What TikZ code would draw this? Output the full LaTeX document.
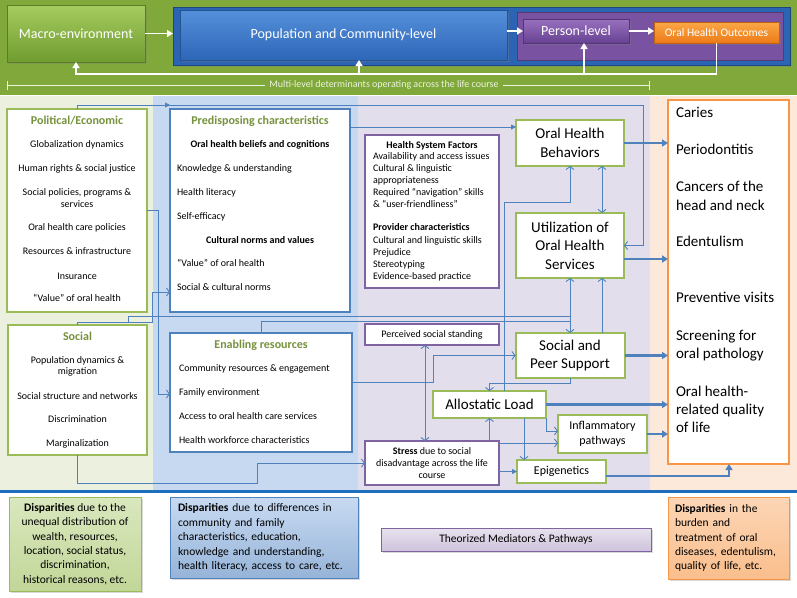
\documentclass[tikz,border=0pt]{standalone}
\usepackage{fontspec}
\setmainfont{Carlito}
\usepackage{xcolor}
\usetikzlibrary{arrows.meta, positioning, calc, shadows}

\definecolor{BannerGreen}{RGB}{128,168,58}
\definecolor{MacroTop}{RGB}{165,204,95}
\definecolor{MacroBot}{RGB}{112,156,48}
\definecolor{PopFrame}{RGB}{44,100,180}
\definecolor{PopTop}{RGB}{84,144,218}
\definecolor{PopBot}{RGB}{46,102,184}
\definecolor{PurpFrame}{RGB}{122,82,162}
\definecolor{PerTop}{RGB}{152,112,192}
\definecolor{PerBot}{RGB}{104,66,146}
\definecolor{OhoTop}{RGB}{251,168,72}
\definecolor{OhoBot}{RGB}{236,122,22}
\definecolor{MlText}{RGB}{236,244,222}
\definecolor{ColGreen}{RGB}{235,241,222}
\definecolor{ColBlue}{RGB}{198,217,240}
\definecolor{ColPurple}{RGB}{227,222,236}
\definecolor{ColOrange}{RGB}{253,233,217}
\definecolor{BoxGreen}{RGB}{155,187,89}
\definecolor{BoxBlue}{RGB}{79,129,189}
\definecolor{BoxPurple}{RGB}{128,100,162}
\definecolor{BoxOrange}{RGB}{247,150,70}
\definecolor{TitleGreen}{RGB}{118,146,60}
\definecolor{LinkBlue}{RGB}{79,129,189}
\definecolor{SepBlue}{RGB}{30,110,190}
\definecolor{LegGreenTop}{RGB}{218,232,190}
\definecolor{LegGreenBot}{RGB}{194,214,152}
\definecolor{LegBlueTop}{RGB}{200,218,242}
\definecolor{LegBlueBot}{RGB}{150,180,216}
\definecolor{LegPurpTop}{RGB}{232,226,238}
\definecolor{LegPurpBot}{RGB}{206,195,220}
\definecolor{LegOrTop}{RGB}{252,214,182}
\definecolor{LegOrBot}{RGB}{250,190,140}

\newcommand{\ftxt}{\fontsize{10}{12}\selectfont}
\newcommand{\fhsf}{\fontsize{10}{12}\selectfont}
\newcommand{\fhead}{\fontsize{12}{14}\selectfont}
\newcommand{\fbig}{\fontsize{15}{18.5}\selectfont}
\newcommand{\fmid}{\fontsize{12}{15}\selectfont}
\newcommand{\fleg}{\fontsize{11.5}{14.4}\selectfont}
\newcommand{\fban}{\fontsize{14}{16}\selectfont}
\newcommand{\fsban}{\fontsize{11.5}{14}\selectfont}

\begin{document}
\begin{tikzpicture}[x=1pt, y=-1pt,
  every node/.style={inner sep=0pt, outer sep=0pt},
  lvl/.style={draw=#1, line width=0.6pt, text=white,
    drop shadow={opacity=0.35, shadow xshift=1.5pt, shadow yshift=-1.5pt}},
  item/.style={font=\ftxt, text height=7pt, text depth=2pt},
  lft/.style={item, anchor=west},
  ttl/.style={font=\fhead\bfseries, text=TitleGreen, text height=8.5pt, text depth=2.5pt},
  outitem/.style={font=\fbig, anchor=west, text height=10.5pt, text depth=3pt},
  gbox/.style={draw=BoxGreen, line width=2pt, fill=white},
  bbox/.style={draw=BoxBlue, line width=2pt, fill=white},
  pbox/.style={draw=BoxPurple, line width=1.6pt, fill=white},
  obox/.style={draw=BoxOrange, line width=2pt, fill=white},
  legbox/.style={draw=#1, line width=0.7pt, font=\fleg,
    drop shadow={opacity=0.3, shadow xshift=1.5pt, shadow yshift=-1.5pt}},
  wline/.style={draw=white, line width=1.8pt},
  warr/.style={wline, -{Triangle[length=6pt,width=7pt]}},
  mlline/.style={draw=MlText, line width=0.6pt},
  link/.style={draw=LinkBlue, line width=0.9pt},
  arr/.style={link, -{Straight Barb[length=3pt,width=8pt]}},
  arrb/.style={link, {Straight Barb[length=3pt,width=8pt]}-{Straight Barb[length=3pt,width=8pt]}},
  arrf/.style={link, -{Triangle[length=5pt,width=5pt]}},
  thk/.style={draw=LinkBlue, line width=2.2pt, -{Triangle[length=6pt,width=7pt]}}]
  \useasboundingbox (0,0) rectangle (797,597);

  % backgrounds
  \fill[BannerGreen] (0,0) rectangle (797,95);
  \fill[ColGreen] (0,96) rectangle (153,490);
  \fill[ColBlue] (153,96) rectangle (358,490);
  \fill[ColPurple] (358,96) rectangle (650,490);
  \fill[ColOrange] (650,96) rectangle (797,490);
  \draw[SepBlue, line width=3pt] (0,491.5) -- (797,491.5);

  % multi-level banner
  \node[lvl=MacroBot!80!black, top color=MacroTop, bottom color=MacroBot,
    minimum width=138pt, minimum height=57pt, font=\fban] (macro) at (76,33.5) {Macro-environment};
  \node[fill=PopFrame, draw=PopFrame!70!black, line width=0.6pt, minimum width=617pt, minimum height=58pt,
    drop shadow={opacity=0.35, shadow xshift=1.5pt, shadow yshift=-1.5pt}] (popwrap) at (481.5,36) {};
  \node[lvl=PopBot!80!black, top color=PopTop, bottom color=PopBot,
    minimum width=327pt, minimum height=50pt, font=\fban] (pop) at (343.5,35) {Population and Community-level};
  \node[fill=PurpFrame, draw=PurpFrame!70!black, line width=0.6pt, minimum width=266pt, minimum height=48pt] (perwrap) at (650,36) {};
  \node[lvl=PerBot!80!black, top color=PerTop, bottom color=PerBot,
    minimum width=106pt, minimum height=24pt, font=\fban] (person) at (576,31) {Person-level};
  \node[lvl=OhoBot!80!black, top color=OhoTop, bottom color=OhoBot,
    minimum width=125pt, minimum height=21pt, font=\fsban] (oho) at (716.5,32.5) {Oral Health Outcomes};

  \draw[warr] (macro.east) -- (macro.east -| popwrap.west);
  \draw[warr] (pop.east |- person.west) -- (person.west);
  \draw[warr] (person.east) -- (person.east -| oho.west);
  \coordinate (fb) at (0,74);
  \coordinate (popup) at ($(pop.south)+(15.5,0)$);
  \coordinate (perup) at ($(person.south)+(8,0)$);
  \draw[warr] (oho.south) |- (macro.south |- fb) -- (macro.south);
  \draw[warr] (popup |- fb) -- (popup);
  \draw[warr] (perup |- fb) -- (perup);

  \node[font=\ftxt, text=MlText, inner xsep=4pt] (mltext) at (384,85) {Multi-level determinants operating across the life course};
  \coordinate (mlL) at (7,85);
  \coordinate (mlR) at (650,85);
  \draw[mlline, {Bar[width=9pt]}-] (mlL) -- (mltext.west);
  \draw[mlline, -{Bar[width=9pt]}] (mltext.east) -- (mlR);

  % macro-environment column
  \node[gbox, minimum width=140pt, minimum height=203pt] (pol) at (77,210.5) {};
  \node[ttl] (pol-t) at (77,121) {Political/Economic};
  \foreach \y/\t [count=\i] in {145/Globalization dynamics, 169/Human rights \& social justice,
      193/{Social policies, programs \&}, 205/services, 228/Oral health care policies,
      252/Resources \& infrastructure, 277/Insurance, 299/``Value'' of oral health}
    \node[item] (pol-\i) at (77,\y) {\t};

  \node[gbox, minimum width=139pt, minimum height=130pt] (soc) at (77.5,390) {};
  \node[ttl] (soc-t) at (77.5,337) {Social};
  \foreach \y/\t [count=\i] in {361/Population dynamics \&, 372/migration,
      397/Social structure and networks, 420/Discrimination, 444/Marginalization}
    \node[item] (soc-\i) at (77.5,\y) {\t};

  % population and community column
  \node[bbox, minimum width=180pt, minimum height=203pt] (pred) at (260,210.5) {};
  \node[ttl] (pred-t) at (260,121) {Predisposing characteristics};
  \node[item, font=\ftxt\bfseries] (pred-h1) at (260,145) {Oral health beliefs and cognitions};
  \node[item, font=\ftxt\bfseries] (pred-h2) at (260,241) {Cultural norms and values};
  \foreach \y/\t [count=\i] in {169/Knowledge \& understanding, 193/Health literacy,
      217/Self-efficacy, 264/``Value'' of oral health, 288/Social \& cultural norms}
    \node[lft] (pred-\i) at (177,\y) {\t};

  \node[bbox, minimum width=182pt, minimum height=119pt] (enab) at (261,392.5) {};
  \node[ttl] (enab-t) at (261,345) {Enabling resources};
  \foreach \y/\t [count=\i] in {369/Community resources \& engagement, 393/Family environment,
      417/Access to oral health care services, 441/Health workforce characteristics}
    \node[lft] (enab-\i) at (179,\y) {\t};

  % mediators and pathways
  \node[pbox, minimum width=134pt, minimum height=153pt] (hsf) at (432,211.5) {};
  \node[item, font=\fhsf\bfseries] (hsf-t) at (432,146) {Health System Factors};
  \foreach \y/\t [count=\i] in {157/Availability and access issues, 169/Cultural \& linguistic,
      181/appropriateness, 193/Required ``navigation'' skills, 205/\& ``user-friendliness'',
      228/\textbf{Provider characteristics}, 241/Cultural and linguistic skills,
      253/Prejudice, 265/Stereotyping, 277/Evidence-based practice}
    \node[lft, font=\fhsf] (hsf-\i) at (373,\y) {\t};

  \node[pbox, minimum width=134pt, minimum height=21pt, font=\ftxt] (pss) at (432,334.5) {Perceived social standing};
  \node[pbox, minimum width=134pt, minimum height=44pt, font=\ftxt, align=center] (stress) at (432,463)
    {\textbf{Stress} due to social\\disadvantage across the life\\course};

  \node[gbox, minimum width=108pt, minimum height=46pt, font=\fbig, align=center] (ohb) at (570,143) {Oral Health\\Behaviors};
  \node[gbox, minimum width=108pt, minimum height=65pt, font=\fbig, align=center] (util) at (570,245.5) {Utilization of\\Oral Health\\Services};
  \node[gbox, minimum width=109pt, minimum height=45pt, font=\fbig, align=center] (sps) at (570,355.5) {Social and\\Peer Support};
  \node[gbox, minimum width=113pt, minimum height=27pt, font=\fbig] (al) at (489.5,404.5) {Allostatic Load};
  \node[gbox, minimum width=89pt, minimum height=38pt, font=\fmid, align=center] (infl) at (602.5,434) {Inflammatory\\pathways};
  \node[gbox, minimum width=89pt, minimum height=23pt, font=\fmid] (epi) at (561.5,471.5) {Epigenetics};

  % oral health outcomes
  \node[obox, minimum width=121pt, minimum height=364pt] (out) at (728.5,282) {};
  \foreach \y/\t [count=\i] in {114/Caries, 151/Periodontitis, 188/Cancers of the, 207/head and neck,
      243/Edentulism, 299/Preventive visits, 337/Screening for, 355/oral pathology,
      393/Oral health-, 411/related quality, 429/of life}
    \node[outitem] (out-\i) at (676,\y) {\t};

  % connectors
  \coordinate (busR) at (643,105);
  \draw[arrf] (pol.north) |- ($(pred.north west)+(0,-4)$);
  \draw[arr] (pol.north) |- (busR) |- (util.east);
  \coordinate (famIn) at (158,394);
  \draw[arr] (pol.east) -| (famIn) -- (famIn -| enab.west);
  \coordinate (socBus) at (152,322);
  \coordinate (predIn) at (0,292);
  \draw[arr] (soc.north) |- (socBus) |- (pred.west |- predIn);
  \coordinate (socUp) at (128,322);
  \coordinate (busA) at (0,316);
  \coordinate (busB) at (0,321);
  \draw[link] (socUp) |- (util.south |- busA);
  \draw[link] (enab.north) |- (util.south |- busB);
  \draw[arrb] (util.south) -- (sps.north);
  \coordinate (socDown) at (257,483);
  \draw[arr] (soc.south) |- (socDown) |- (stress.west);

  \coordinate (ohbIn) at (0,127);
  \draw[arrf] (pred.east |- ohbIn) -- (ohb.west |- ohbIn);
  \coordinate (colB) at (602,0);
  \draw[arrb] (ohb.south -| colB) -- (util.north -| colB);
  \draw[arr] (sps.north -| colB) -- (util.south -| colB);
  \coordinate (alUp) at (504,202);
  \draw[arr] (al.north -| alUp) -- (alUp) -| (ohb.south);
  \coordinate (pssCol) at (425,0);
  \draw[arrb] (pss.south -| pssCol) -- (stress.north -| pssCol);
  \coordinate (enabOut) at (433,382);
  \draw[arr] (enab.east |- enabOut) -- (enabOut) |- (sps.west);
  \coordinate (spsDown) at (0,383);
  \draw[arr] (sps.south) -- (sps.south |- spsDown) -| (al.north);
  \draw[arr] (stress.north -| al.south) -- (al.south);
  \coordinate (inflA) at (0,431);
  \coordinate (inflB) at (0,443);
  \draw[arr] (al.south east) |- (infl.west |- inflA);
  \draw[arr] (stress.east |- inflB) -- (infl.west |- inflB);
  \coordinate (epiCol) at (524,0);
  \draw[arr] (al.south -| epiCol) -- (epi.north -| epiCol);
  \draw[arrf] (stress.east |- epi.west) -- (epi.west);

  \draw[thk] (ohb.east) -- (ohb.east -| out.west);
  \coordinate (utilOut) at (0,259);
  \draw[thk] (util.east |- utilOut) -- (out.west |- utilOut);
  \draw[thk] (sps.east) -- (sps.east -| out.west);
  \draw[thk] (al.east) -- (al.east -| out.west);
  \draw[thk] (infl.east) -- (infl.east -| out.west);
  \coordinate (epiOut) at (729,476);
  \draw[thk] (epi.east |- epiOut) -| (out.south -| epiOut);

  % legend
  \node[legbox=BoxGreen, top color=LegGreenTop, bottom color=LegGreenBot, minimum width=132pt,
    minimum height=94pt, align=center] (leg-g) at (75,544)
    {\textbf{Disparities} due to the\\unequal distribution of\\wealth, resources,\\location, social status,\\discrimination,\\historical reasons, etc.};
  \node[legbox=BoxBlue, top color=LegBlueTop, bottom color=LegBlueBot, minimum width=188pt,
    minimum height=81pt, text width=172pt, align=left] (leg-b) at (264,537.5)
    {\textbf{Disparities} due to differences in\\community and family\\characteristics, education,\\knowledge and understanding,\\health literacy, access to care, etc.};
  \node[legbox=BoxPurple, top color=LegPurpTop, bottom color=LegPurpBot, minimum width=270pt,
    minimum height=23pt] (leg-p) at (516,539.5) {Theorized Mediators \& Pathways};
  \node[legbox=BoxOrange, top color=LegOrTop, bottom color=LegOrBot, minimum width=121pt,
    minimum height=82pt, text width=107pt, align=left] (leg-o) at (728.5,538)
    {\textbf{Disparities} in the\\burden and\\treatment of oral\\diseases, edentulism,\\quality of life, etc.};
\end{tikzpicture}
\end{document}
